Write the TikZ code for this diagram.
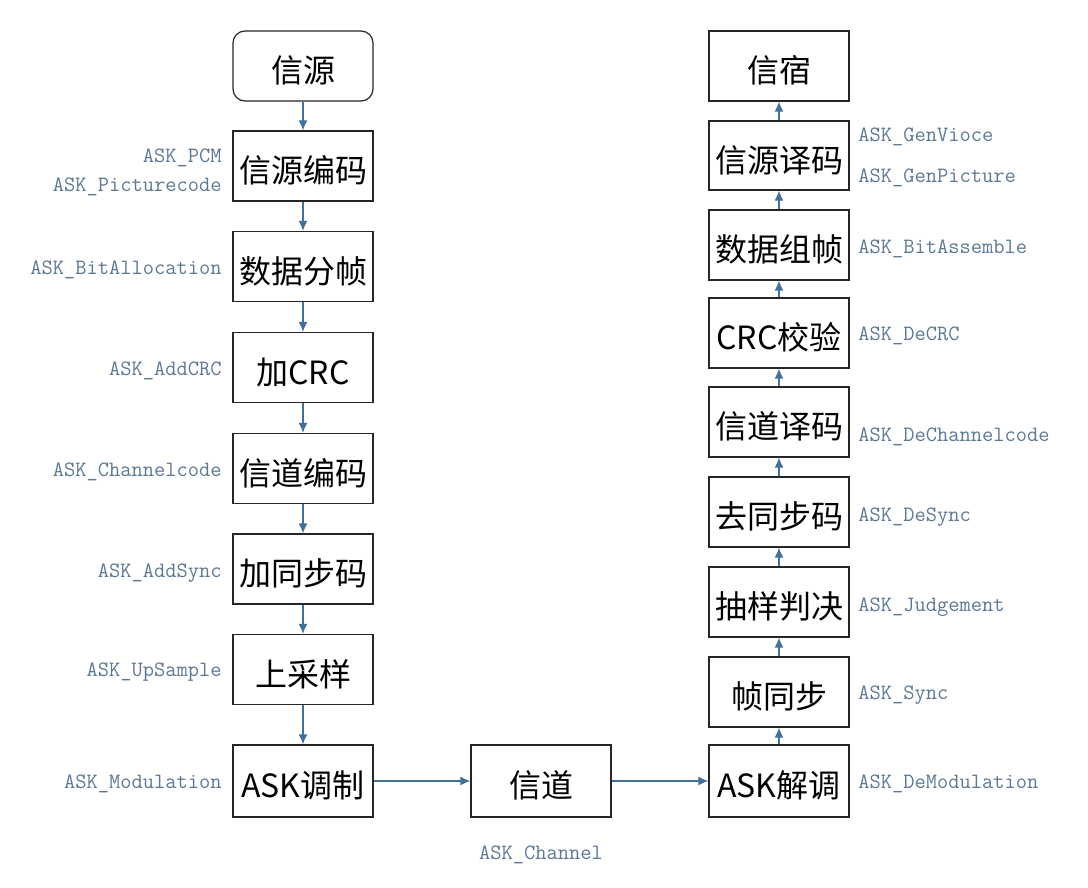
\documentclass[tikz,border=0pt]{standalone}
\usepackage{fontspec}
\setmainfont{Noto Sans CJK SC}
\usetikzlibrary{arrows.meta}
\definecolor{lblc}{HTML}{5B7896}
\definecolor{arrc}{HTML}{41709B}
\begin{document}
\begin{tikzpicture}[x=0.75pt,y=-0.75pt,
  blk/.style={draw=black!85,line width=0.9pt,minimum width=105pt,minimum height=52.5pt,inner sep=0pt,text height=25pt,text depth=0pt,font=\fontsize{24}{26}\selectfont},
  lbl/.style={text=lblc,font=\ttfamily\fontsize{16.4}{18}\selectfont,inner sep=0pt,yshift=-1.5pt},
  arr/.style={draw=arrc,line width=0.8pt,-{Latex[length=7.5pt,width=6.5pt]}}]
\useasboundingbox (0,0) rectangle (1088,888);
% left column
\node[blk,rounded corners=9pt] (s0) at (303,66) {信源};
\node[blk] (s1) at (303,166) {信源编码};
\node[blk] (s2) at (303,266.5) {数据分帧};
\node[blk] (s3) at (303,367.5) {加CRC};
\node[blk] (s4) at (303,468.5) {信道编码};
\node[blk] (s5) at (303,569) {加同步码};
\node[blk] (s6) at (303,669.5) {上采样};
\node[blk,minimum height=54pt] (s7) at (303,781) {ASK调制};
% middle
\node[blk,minimum height=54pt] (ch) at (541,781) {信道};
% right column
\node[blk] (r0) at (779,66) {信宿};
\node[blk,minimum height=51.75pt] (r1) at (779,155.5) {信源译码};
\node[blk,minimum height=52.5pt] (r2) at (779,245) {数据组帧};
\node[blk] (r3) at (779,333) {CRC校验};
\node[blk] (r4) at (779,422) {信道译码};
\node[blk] (r5) at (779,512) {去同步码};
\node[blk] (r6) at (779,602) {抽样判决};
\node[blk] (r7) at (779,692) {帧同步};
\node[blk,minimum height=54pt] (r8) at (779,781) {ASK解调};
% arrows
\draw[arr] (s0) -- (s1);
\draw[arr] (s1) -- (s2);
\draw[arr] (s2) -- (s3);
\draw[arr] (s3) -- (s4);
\draw[arr] (s4) -- (s5);
\draw[arr] (s5) -- (s6);
\draw[arr] (s6) -- (s7);
\draw[arr] (s7) -- (ch);
\draw[arr] (ch) -- (r8);
\draw[arr] (r8) -- (r7);
\draw[arr] (r7) -- (r6);
\draw[arr] (r6) -- (r5);
\draw[arr] (r5) -- (r4);
\draw[arr] (r4) -- (r3);
\draw[arr] (r3) -- (r2);
\draw[arr] (r2) -- (r1);
\draw[arr] (r1) -- (r0);
% left labels
\node[lbl,anchor=east] (l1a) at (222,156) {ASK\_PCM};
\node[lbl,anchor=east] (l1b) at (222,185) {ASK\_Picturecode};
\node[lbl,anchor=east] (l2) at (222,268) {ASK\_BitAllocation};
\node[lbl,anchor=east] (l3) at (222,369) {ASK\_AddCRC};
\node[lbl,anchor=east] (l4) at (222,470) {ASK\_Channelcode};
\node[lbl,anchor=east] (l5) at (222,571) {ASK\_AddSync};
\node[lbl,anchor=east] (l6) at (222,670) {ASK\_UpSample};
\node[lbl,anchor=east] (l7) at (222,782) {ASK\_Modulation};
\node[lbl] (lch) at (541,853) {ASK\_Channel};
% right labels
\node[lbl,anchor=west] (q1a) at (858,135) {ASK\_GenVioce};
\node[lbl,anchor=west] (q1b) at (858,176) {ASK\_GenPicture};
\node[lbl,anchor=west] (q2) at (858,247) {ASK\_BitAssemble};
\node[lbl,anchor=west] (q3) at (858,334) {ASK\_DeCRC};
\node[lbl,anchor=west] (q4) at (858,435) {ASK\_DeChannelcode};
\node[lbl,anchor=west] (q5) at (858,515) {ASK\_DeSync};
\node[lbl,anchor=west] (q6) at (858,605) {ASK\_Judgement};
\node[lbl,anchor=west] (q7) at (858,693) {ASK\_Sync};
\node[lbl,anchor=west] (q8) at (858,782) {ASK\_DeModulation};
\end{tikzpicture}
\end{document}
